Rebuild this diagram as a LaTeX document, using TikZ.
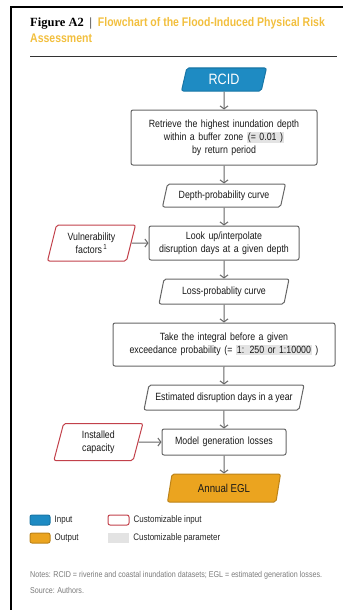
\documentclass[tikz,border=0pt]{standalone}
\usepackage{fontspec}
\setmainfont{Liberation Sans}[FakeStretch=0.84]
\newfontfamily\figserif{Liberation Serif}
\usetikzlibrary{positioning,shapes.geometric,arrows.meta}
\definecolor{inputblue}{HTML}{1E8BC3}
\definecolor{outputorange}{HTML}{EBA41F}
\definecolor{custred}{HTML}{C2414B}
\definecolor{paramgray}{HTML}{E3E3E3}
\definecolor{boxgray}{HTML}{666666}
\definecolor{titleyellow}{HTML}{F2BF3E}
\definecolor{notegray}{HTML}{7A7A7A}
\newcommand{\param}[1]{{\setlength{\fboxsep}{1pt}\colorbox{paramgray}{#1}}}

\begin{document}
\begin{tikzpicture}[x=1pt, y=-1pt, node distance=18pt,
    process/.style = {draw=boxgray, rounded corners=2pt, line width=1pt, align=center,
        text=black!90, font=\fontsize{10.5}{13}\selectfont, inner sep=2pt},
    data/.style = {trapezium, trapezium left angle=70, trapezium right angle=110,
        trapezium stretches body, draw=boxgray, rounded corners=2pt, line width=1pt,
        align=center, text=black!90, font=\fontsize{10.5}{13}\selectfont, inner sep=2pt},
    input/.style = {data, fill=inputblue, draw=inputblue!85!black, text=white},
    output/.style = {data, fill=outputorange, draw=outputorange!80!black},
    custin/.style = {data, draw=custred},
    flow/.style = {draw=boxgray, line width=1pt, -{Straight Barb[length=3pt,width=8pt]}},
    legtext/.style = {font=\fontsize{9.5}{11}\selectfont, text=black!85, inner sep=0pt}]
    \useasboundingbox (0,0) rectangle (360,610);
    % frame and title
    \draw[line width=2pt] (11,610) -- (11,7) -- (343,7);
    \node[anchor=north west, align=left, inner sep=0pt, font=\fontsize{12.5}{16}\selectfont] (title) at (30,17)
        {{\figserif\bfseries Figure A2} \ {\figserif|} \ \textbf{\textcolor{titleyellow}{Flowchart of the Flood-Induced Physical Risk}}\\
         \textbf{\textcolor{titleyellow}{Assessment}}};
    \draw[line width=0.6pt, black!80] (30,56) -- (337,56);
    % main chain
    \node[input, minimum width=85pt, minimum height=23pt, font=\fontsize{15}{16}\selectfont] (rcid) at (224,79.5) {RCID};
    \node[process, below=of rcid, text width=182pt, minimum height=55pt] (retrieve)
        {Retrieve the highest inundation depth\\ within a buffer zone \param{(= 0.01 )}\\ by return period};
    \node[data, below=of retrieve, minimum width=123pt, minimum height=23pt] (depth) {Depth-probability curve};
    \node[process, below=of depth, text width=146pt, minimum height=34pt] (lookup)
        {Look up/interpolate\\ disruption days at a given depth};
    \node[data, below=of lookup, minimum width=130pt, minimum height=25pt] (loss) {Loss-probablity curve};
    \node[process, below=of loss, text width=218pt, minimum height=43pt] (integral)
        {Take the integral before a given\\ exceedance probability (= \param{1: 250 or 1:10000} )};
    \node[data, below=of integral, minimum width=160pt, minimum height=25pt] (estimated) {Estimated disruption days in a year};
    \node[process, below=of estimated, text width=120pt, minimum height=26pt] (model) {Model generation losses};
    \node[output, below=of model, minimum width=113pt, minimum height=28pt, font=\fontsize{11.5}{13}\selectfont] (egl) {Annual EGL};
    % customizable inputs
    \node[custin, left=17pt of lookup, minimum width=88pt, minimum height=36pt] (vuln)
        {Vulnerability\\ factors\textsuperscript{\,1}};
    \node[custin, left=23pt of model, minimum width=89pt, minimum height=37pt] (capacity)
        {Installed\\ capacity};
    \draw[flow] (rcid) -- (retrieve);
    \draw[flow] (retrieve) -- (depth);
    \draw[flow] (depth) -- (lookup);
    \draw[flow] (lookup) -- (loss);
    \draw[flow] (loss) -- (integral);
    \draw[flow] (integral) -- (estimated);
    \draw[flow] (estimated) -- (model);
    \draw[flow] (model) -- (egl);
    \draw[flow] (vuln) -- (lookup);
    \draw[flow] (capacity) -- (model);
    % legend
    \node[input, minimum width=20pt, minimum height=10pt, inner sep=0pt] (leginput) at (40,520) {};
    \node[legtext, right=4pt of leginput] {Input};
    \node[output, minimum width=20pt, minimum height=10pt, inner sep=0pt] (legoutput) at (40,538) {};
    \node[legtext, right=4pt of legoutput] {Output};
    \node[custin, minimum width=21pt, minimum height=10pt, inner sep=0pt] (legcustin) at (118.5,520) {};
    \node[legtext, right=4pt of legcustin] {Customizable input};
    \node[fill=paramgray, minimum width=21pt, minimum height=10pt, inner sep=0pt] (legparam) at (118.5,538) {};
    \node[legtext, right=4pt of legparam] {Customizable parameter};
    % notes
    \node[anchor=west, inner sep=0pt, text=notegray, font=\fontsize{8.5}{10}\selectfont] (notes) at (30,575)
        {Notes: RCID = riverine and coastal inundation datasets; EGL = estimated generation losses.};
    \node[anchor=west, inner sep=0pt, text=notegray, font=\fontsize{8.5}{10}\selectfont] (source) at (30,590)
        {Source: Authors.};
\end{tikzpicture}
\end{document}
